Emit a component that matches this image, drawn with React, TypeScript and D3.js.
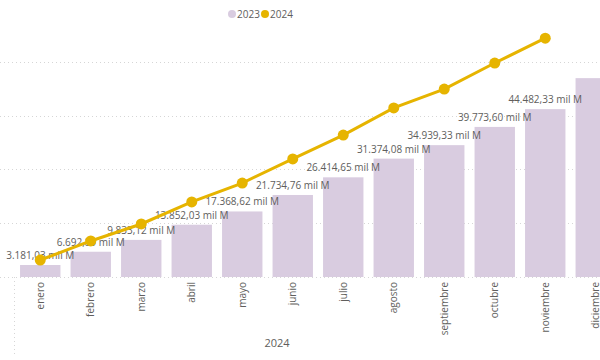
import React from "react";
import * as d3 from "d3";

const months = [
  "enero", "febrero", "marzo", "abril", "mayo", "junio",
  "julio", "agosto", "septiembre", "octubre", "noviembre", "diciembre",
];

// 2023 (bars), in "mil M"
const values2023 = [
  3181.03, 6692.89, 9833.12, 13852.03, 17368.62, 21734.76,
  26414.65, 31374.08, 34939.33, 39773.6, 44482.33, 52700,
];

// 2024 (line), estimated, through noviembre
const values2024 = [
  4500, 9550, 14050, 19900, 24900, 31300, 37600, 44800, 49800, 56700, 63300,
];

// labels shown for the first 11 bars only (last one is clipped off in the original)
const labelCount = 11;

const gridValues = [0, 14250, 28500, 42750, 57000];

const fmt = (v: number) =>
  d3.format(",.2f")(v).replace(/,/g, "#").replace(".", ",").replace(/#/g, ".") + " mil M";

const W = 600;
const H = 360;
const FONT = "'Segoe UI', 'Open Sans', sans-serif";

const App: React.FC = () => {
  const x = d3
    .scaleBand()
    .domain(months)
    .range([15, 621])
    .paddingInner(0.2)
    .paddingOuter(0.1);

  const y = d3.scaleLinear().domain([0, 70000]).range([277, 277 - 70000 / 265]);

  const cx = (m: string) => (x(m) || 0) + x.bandwidth() / 2;

  const line = d3
    .line<number>()
    .x((_, i) => cx(months[i]))
    .y((d) => y(d));

  return (
    <svg
      width={W}
      height={H}
      style={{ position: "absolute", left: 0, top: 0, background: "#fff" }}
      fontFamily={FONT}
    >
      {/* legend */}
      <g>
        <circle cx={232} cy={14} r={4} fill="#D9CCE0" />
        <text x={237} y={18} fontSize={10} fill="#605E5C">2023</text>
        <circle cx={265} cy={14} r={4} fill="#E6B400" />
        <text x={270} y={18} fontSize={10} fill="#605E5C">2024</text>
      </g>

      {/* gridlines */}
      {gridValues.map((g) => (
        <line
          key={g}
          x1={0}
          x2={W}
          y1={Math.round(y(g)) + 0.5}
          y2={Math.round(y(g)) + 0.5}
          stroke="#D6D6D6"
          strokeDasharray="1 3"
        />
      ))}
      <line x1={14.5} x2={14.5} y1={277} y2={356} stroke="#D6D6D6" strokeDasharray="1 3" />

      {/* bars */}
      {values2023.map((v, i) => (
        <rect
          key={months[i]}
          x={x(months[i])}
          y={y(v)}
          width={x.bandwidth()}
          height={y(0) - y(v)}
          fill="#D9CCE0"
        />
      ))}

      {/* data labels */}
      {values2023.slice(0, labelCount).map((v, i) => (
        <text
          key={"l" + i}
          x={cx(months[i])}
          y={y(v) - 6}
          textAnchor="middle"
          fontSize={10}
          fill="#605E5C"
        >
          {fmt(v)}
        </text>
      ))}

      {/* 2024 line */}
      <path d={line(values2024) || ""} fill="none" stroke="#E6B400" strokeWidth={3} />
      {values2024.map((v, i) => (
        <circle key={"p" + i} cx={cx(months[i])} cy={y(v)} r={5.5} fill="#E6B400" />
      ))}

      {/* x labels */}
      {months.map((m) => (
        <text
          key={"x" + m}
          transform={`translate(${cx(m)},282) rotate(-90)`}
          textAnchor="end"
          dy="0.35em"
          fontSize={10}
          fill="#605E5C"
        >
          {m}
        </text>
      ))}
      <text x={277} y={347} textAnchor="middle" fontSize={11} fill="#605E5C">
        2024
      </text>
    </svg>
  );
};

export default App;
